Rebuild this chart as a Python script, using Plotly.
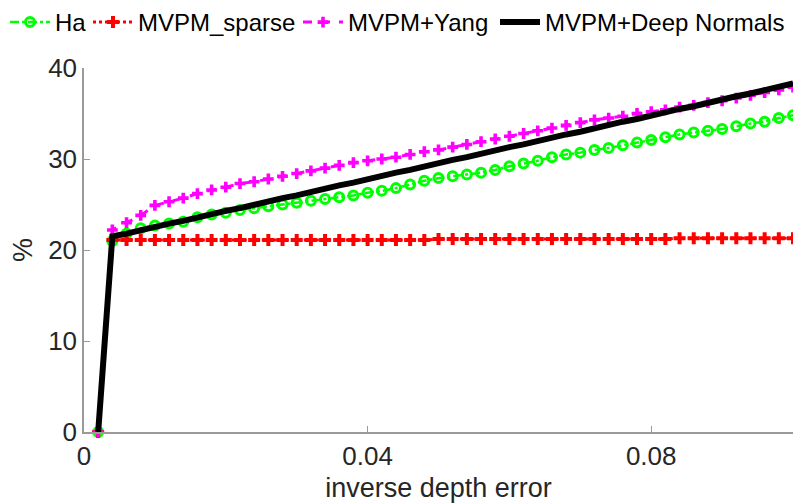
import plotly.graph_objects as go

x_vals = [0.002, 0.004, 0.006, 0.008, 0.010, 0.012, 0.014, 0.016, 0.018, 0.020,
          0.022, 0.024, 0.026, 0.028, 0.030, 0.032, 0.034, 0.036, 0.038, 0.040,
          0.042, 0.044, 0.046, 0.048, 0.050, 0.052, 0.054, 0.056, 0.058, 0.060,
          0.062, 0.064, 0.066, 0.068, 0.070, 0.072, 0.074, 0.076, 0.078, 0.080,
          0.082, 0.084, 0.086, 0.088, 0.090, 0.092, 0.094, 0.096, 0.098, 0.100]

ha = [0, 21.0, 21.8, 22.4, 22.7, 22.9, 23.1, 23.6, 23.9, 24.1,
      24.4, 24.6, 24.8, 25.0, 25.2, 25.4, 25.6, 25.8, 26.0, 26.3,
      26.5, 26.8, 27.2, 27.6, 27.9, 28.1, 28.3, 28.5, 28.8, 29.2,
      29.5, 29.8, 30.2, 30.5, 30.7, 31.0, 31.2, 31.5, 31.8, 32.1,
      32.4, 32.7, 32.9, 33.1, 33.3, 33.6, 33.9, 34.1, 34.5, 34.8]

mvpm_sparse = [0, 21.1, 21.1, 21.1, 21.1, 21.1, 21.1, 21.1, 21.1, 21.1,
               21.1, 21.1, 21.1, 21.1, 21.1, 21.1, 21.1, 21.1, 21.1, 21.1,
               21.1, 21.1, 21.1, 21.1, 21.2, 21.2, 21.2, 21.2, 21.2, 21.2,
               21.2, 21.2, 21.2, 21.2, 21.2, 21.2, 21.2, 21.2, 21.2, 21.2,
               21.2, 21.3, 21.3, 21.3, 21.3, 21.3, 21.3, 21.3, 21.3, 21.3]

mvpm_yang = [0, 22.2, 23.0, 23.8, 24.9, 25.3, 25.7, 26.2, 26.6, 26.9,
             27.3, 27.5, 27.8, 28.1, 28.4, 28.7, 29.0, 29.3, 29.6, 29.8,
             30.0, 30.2, 30.5, 30.8, 31.0, 31.3, 31.6, 31.9, 32.2, 32.5,
             32.8, 33.1, 33.4, 33.7, 34.0, 34.3, 34.5, 34.7, 35.0, 35.2,
             35.4, 35.7, 35.9, 36.2, 36.4, 36.7, 37.0, 37.3, 37.6, 37.9]

mvpm_deep = [0, 21.5, 21.8, 22.2, 22.5, 22.9, 23.2, 23.6, 23.9, 24.3,
             24.6, 25.0, 25.3, 25.7, 26.0, 26.4, 26.7, 27.1, 27.4, 27.8,
             28.1, 28.5, 28.8, 29.2, 29.5, 29.9, 30.2, 30.6, 30.9, 31.3,
             31.6, 32.0, 32.3, 32.7, 33.0, 33.4, 33.7, 34.1, 34.4, 34.8,
             35.1, 35.5, 35.8, 36.2, 36.5, 36.9, 37.2, 37.6, 37.9, 38.3]

x_tickvals = [0, 0.04, 0.08]
x_ticktext = ["0", "0.04", "0.08"]
y_tickvals = [0, 10, 20, 30, 40]

FONT = "Liberation Sans"
TXT = "#262626"
AX = "#9a9a9a"

fig = go.Figure()
fig.add_trace(go.Scatter(
    x=x_vals, y=ha, name="Ha", mode="lines+markers", legend="legend",
    line=dict(color="#00ff00", width=2.5, dash="dashdot"),
    marker=dict(symbol="circle-open", size=9, color="#00ff00", line=dict(width=3, color="#00ff00")),
    cliponaxis=False))
fig.add_trace(go.Scatter(
    x=x_vals, y=mvpm_sparse, name="MVPM_sparse", mode="lines+markers", legend="legend2",
    line=dict(color="#ff0000", width=3, dash="dot"),
    marker=dict(symbol="cross", size=10, color="#ff0000"),
    cliponaxis=False))
fig.add_trace(go.Scatter(
    x=x_vals, y=mvpm_yang, name="MVPM+Yang", mode="lines+markers", legend="legend3",
    line=dict(color="#ff00ff", width=3, dash="dash"),
    marker=dict(symbol="cross", size=9, color="#ff00ff"),
    cliponaxis=False))
fig.add_trace(go.Scatter(
    x=x_vals, y=mvpm_deep, name="MVPM+Deep Normals", mode="lines", legend="legend4",
    line=dict(color="#000000", width=6)))


def leg(xpx):
    return dict(orientation="h", x=xpx / 793, y=1, xref="container", yref="container",
                xanchor="left", yanchor="top",
                font=dict(family=FONT, size=24, color="#000000"),
                bgcolor="rgba(0,0,0,0)", itemwidth=40)


fig.update_layout(
    width=793, height=504,
    margin=dict(l=84, r=0, t=68, b=72, autoexpand=False),
    paper_bgcolor="white", plot_bgcolor="white",
    font=dict(family=FONT, size=24, color=TXT),
    showlegend=True,
    legend=leg(5), legend2=leg(88), legend3=leg(298), legend4=leg(495),
    xaxis=dict(range=[0, 0.1], tickvals=x_tickvals, ticktext=x_ticktext,
               showgrid=False, zeroline=False, showline=True, linecolor=AX, linewidth=1.5,
               ticks="inside", ticklen=6, tickcolor=AX,
               tickfont=dict(family=FONT, size=26, color=TXT),
               title=dict(text="inverse depth error", font=dict(family=FONT, size=27, color=TXT), standoff=8)),
    yaxis=dict(range=[0, 40], tickvals=y_tickvals,
               showgrid=False, zeroline=False, showline=True, linecolor=AX, linewidth=1.5,
               ticks="inside", ticklen=6, tickcolor=AX,
               tickfont=dict(family=FONT, size=26, color=TXT),
               title=dict(text="%", font=dict(family=FONT, size=27, color=TXT), standoff=8)),
)

fig.write_html("out.html")
